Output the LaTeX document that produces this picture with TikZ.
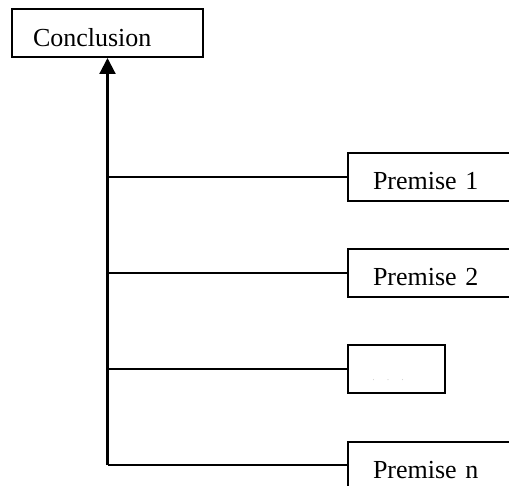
\documentclass[tikz,border=0pt]{standalone}
\usepackage{fontspec}
\setmainfont{Liberation Serif}
\usetikzlibrary{arrows.meta}
\begin{document}
\begin{tikzpicture}[x=1pt,y=1pt,
  box/.style={draw=black,line width=2pt,inner sep=0pt,minimum height=48pt,
    text height=25pt,text depth=0pt,
    font=\fontsize{26}{30}\selectfont},
  link/.style={draw=black,line width=1.6pt},
  trunk/.style={draw=black,line width=2.2pt}]
\useasboundingbox (0,0) rectangle (509,-486);
\fill[white] (0,0) rectangle (509,-486);
\node[box,minimum width=191pt,text width=149pt,align=left,text height=27pt] (concl) at (107.5,-33) {Conclusion};
\node[box,minimum width=190pt,text width=140pt,align=left,anchor=west] (p1) at (347,-177) {Premise 1};
\node[box,minimum width=190pt,text width=140pt,align=left,anchor=west] (p2) at (347,-273) {Premise 2};
\node[box,minimum width=97pt,anchor=west] (p3) at (347,-369) {};
\node[inner sep=0pt,text=gray!35,font=\fontsize{10}{10}\selectfont] (dots) at (388,-380) {.\hspace{12pt}.\hspace{12pt}.};
\node[box,minimum width=190pt,text width=140pt,align=left,anchor=west] (pn) at (347,-466) {Premise n};
\coordinate (bot) at (107.5,-465);
\draw[trunk,-{Triangle[width=16pt,length=16pt]}] (bot) -- (concl.south);
\draw[link] (bot |- p1.west) -- (p1.west);
\draw[link] (bot |- p2.west) -- (p2.west);
\draw[link] (bot |- p3.west) -- (p3.west);
\draw[link] (bot) -- (pn.west |- bot);
\end{tikzpicture}
\end{document}
